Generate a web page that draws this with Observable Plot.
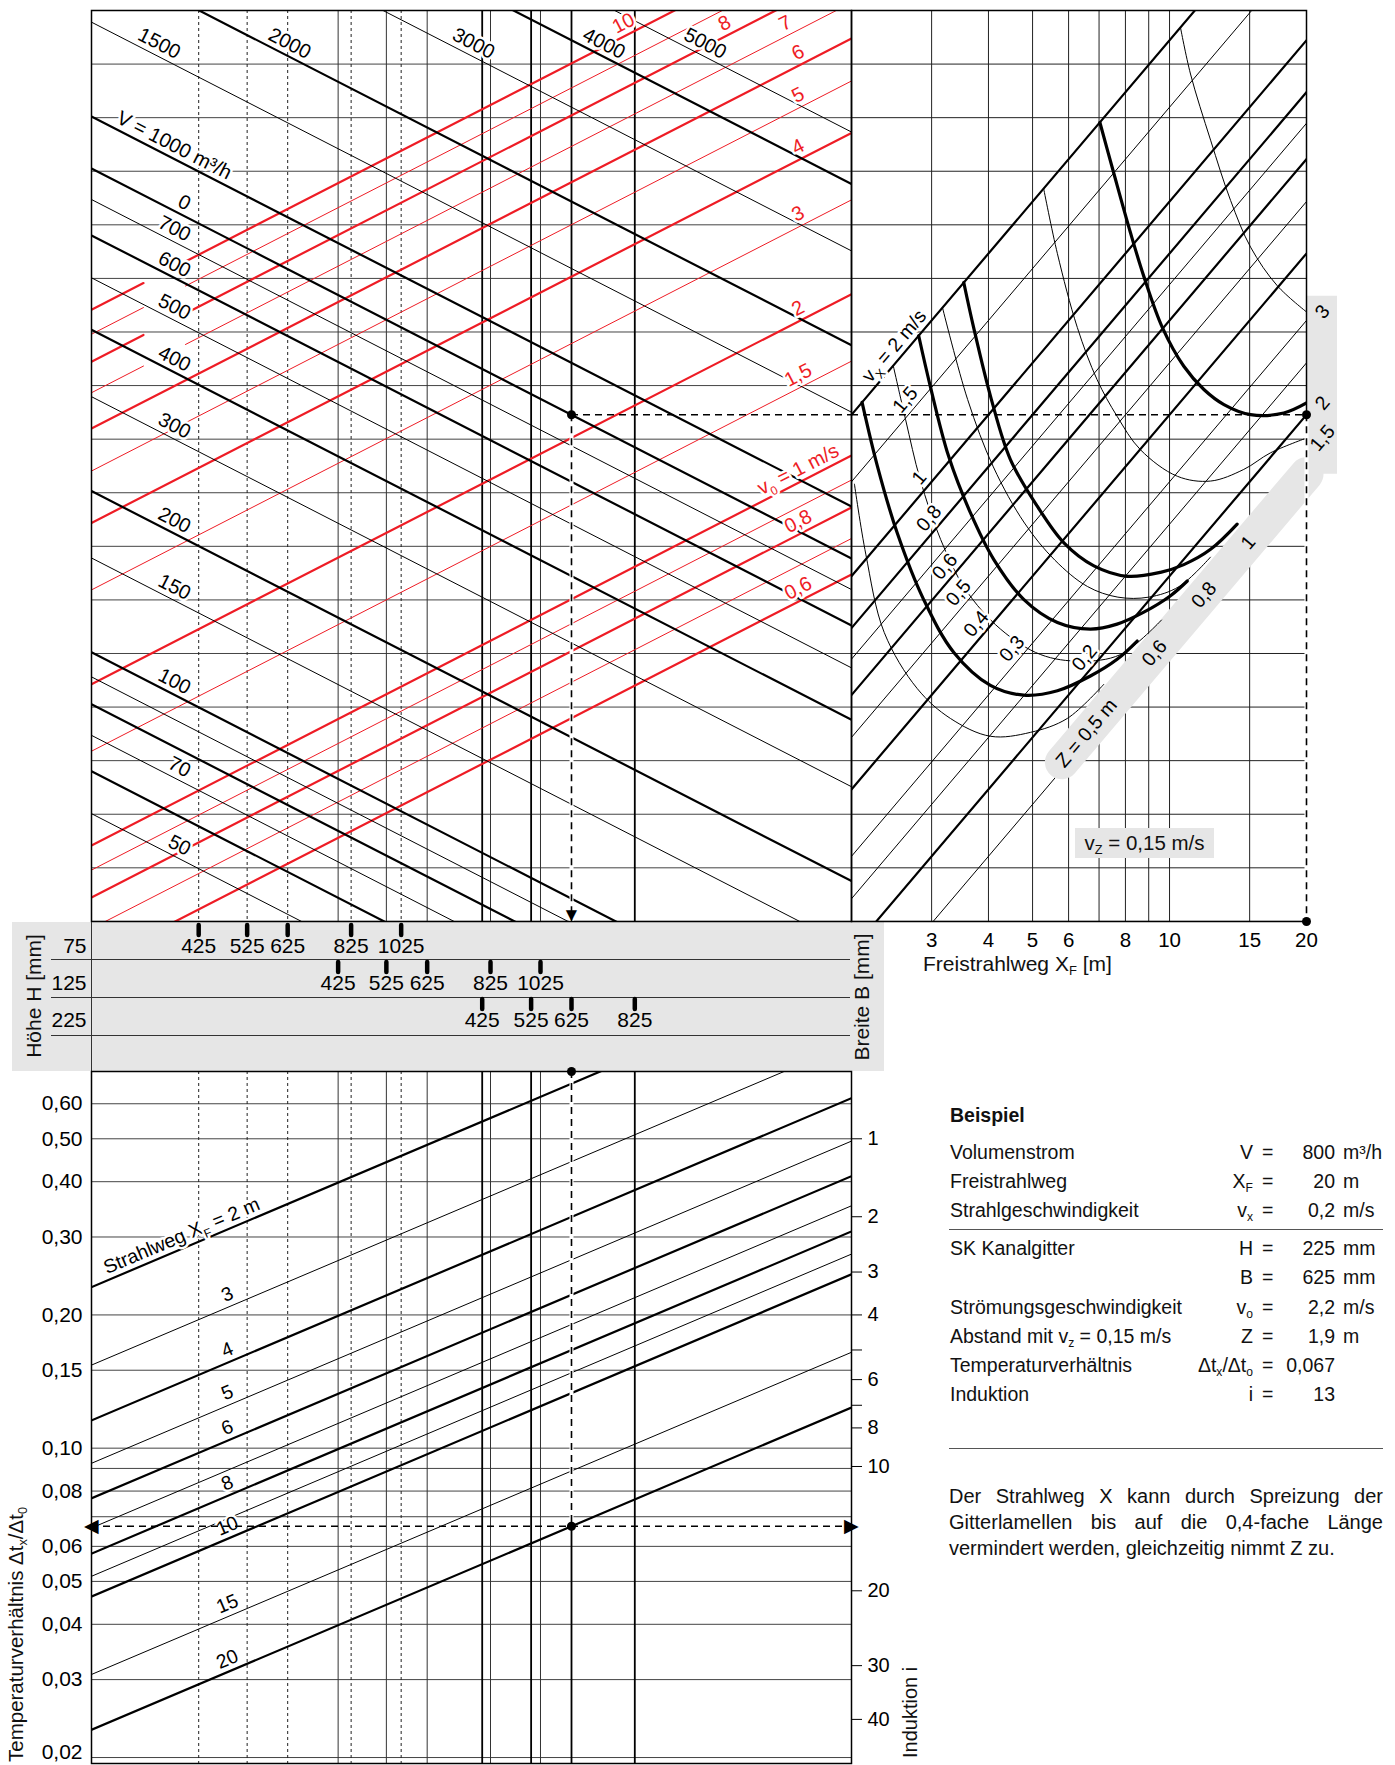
<!DOCTYPE html>
<html lang="de">
<head>
<meta charset="utf-8">
<script src="https://cdn.jsdelivr.net/npm/d3@7"></script>
<script src="https://cdn.jsdelivr.net/npm/@observablehq/plot@0.6"></script>
<style>
html,body{margin:0;padding:0;background:#fff;}
#root{position:relative;width:1395px;height:1765px;overflow:hidden;background:#fff;font-family:'Liberation Sans',Arial,Helvetica,sans-serif;color:#111;}
.abs{position:absolute;white-space:nowrap;font-size:19.5px;line-height:22px;}
.box{position:absolute;background:#e6e6e6;}
.hl{position:absolute;height:1px;background:#333;}
sub{font-size:0.62em;vertical-align:-0.32em;line-height:0;}
</style>
</head>
<body>
<div id="root"></div>
<script>
// ======================= DATA =======================
// scale domains
const areaDomain  = [0.01211, 0.3459];   // effective free grille area A [m²]
const jetDomain   = [0.0794, 3.981];     // jet parameter q = v0·√A
const throwDomain = [2, 20];             // Freistrahlweg X_F [m]
const ratioDomain = [0.01939, 0.7096];   // Δt_x/Δt_0

// grille table (height H, width B, effective area A)
const gridHeights = ["75", "125", "225"];
const widths75  = [425, 525, 625, 825, 1025];
const areas75   = [0.01943, 0.02406, 0.02877, 0.03806, 0.04746];
const widths125 = [425, 525, 625, 825, 1025];
const areas125  = [0.03594, 0.04446, 0.05323, 0.07038, 0.08774];
const widths225 = [425, 525, 625, 825];
const areas225  = [0.06785, 0.08419, 0.1006, 0.1330];

// volume flow lines V [m³/h]
const volumeFlows = [5000, 4000, 3000, 2000, 1500, 1000, 800, 700, 600, 500, 400, 300, 200, 150, 100, 90, 80, 70, 60, 50];
const volumeBold  = [4000, 2000, 1000, 800, 600, 400, 200, 100, 80, 60];
const volumeTopLabels  = [1500, 2000, 3000, 4000, 5000];
const volumeSideLabels = [1000, 800, 700, 600, 500, 400, 300, 200, 150, 100, 70, 50];
const volumeSideText   = ["V = 1000 m³/h", "0", "700", "600", "500", "400", "300", "200", "150", "100", "70", "50"];

// outlet velocity lines v0 [m/s]
const outletSpeeds = [10, 9, 8, 7, 6, 5, 4, 3, 2, 1.5, 1, 0.9, 0.8, 0.7, 0.6];
const outletBold   = [10, 8, 6, 4, 2, 1, 0.8, 0.6];
const outletLabels = [10, 8, 7, 6, 5, 4, 3, 2, 1.5, 1, 0.8, 0.6];
const outletLabelText = ["10", "8", "7", "6", "5", "4", "3", "2", "1,5", "v_0 = 1 m/s", "0,8", "0,6"];

// jet velocity lines v_x [m/s]
const jetSpeeds = [2, 1.5, 1, 0.8, 0.7, 0.6, 0.5, 0.4, 0.3, 0.25, 0.2, 0.15];
const jetBold   = [2, 1, 0.8, 0.6, 0.4, 0.2];
const jetLabelSpeeds = [2, 1.5, 1, 0.8, 0.6, 0.5, 0.4, 0.3, 0.2];
const jetLabelText   = ["v_X = 2 m/s", "1,5", "1", "0,8", "0,6", "0,5", "0,4", "0,3", "0,2"];
const jetLabelAt     = [2.60, 2.75, 2.95, 3.10, 3.36, 3.60, 3.94, 4.72, 6.81];
const throwTicks = [3, 4, 5, 6, 8, 10, 15, 20];
const throwGrid  = [3, 4, 5, 6, 7, 8, 9, 10, 15];

// distance curves Z (v_z = 0,15 m/s): X_F [m] and jet parameter q
const zCurves = [
  {Z: 0.5, bold: false, xf: [2.03, 2.15, 2.36, 2.79, 3.30, 4.04, 4.95, 5.96, 7.17],
                        q:  [0.52, 0.385, 0.275, 0.216, 0.19, 0.176, 0.179, 0.19, 0.22]},
  {Z: 0.6, bold: true,  xf: [2.11, 2.28, 2.52, 2.88, 3.36, 4.04, 4.78, 5.67, 6.70, 7.67, 8.49],
                        q:  [0.739, 0.562, 0.422, 0.317, 0.252, 0.219, 0.210, 0.214, 0.228, 0.245, 0.265]},
  {Z: 0.7, bold: false, xf: [2.47, 2.63, 2.83, 3.14, 3.56, 4.25, 5.21, 6.37, 7.80, 9.6],
                        q:  [0.866, 0.686, 0.531, 0.41, 0.331, 0.279, 0.25, 0.243, 0.25, 0.29]},
  {Z: 0.8, bold: true,  xf: [2.81, 2.98, 3.27, 3.65, 4.11, 4.78, 5.67, 6.70, 7.67, 8.78, 10.05, 10.94],
                        q:  [0.984, 0.792, 0.586, 0.46, 0.376, 0.317, 0.287, 0.279, 0.285, 0.30, 0.322, 0.343]},
  {Z: 0.9, bold: false, xf: [3.17, 3.60, 4.10, 4.80, 5.60, 6.60, 7.70, 9.0, 10.5, 12.3],
                        q:  [1.11, 0.748, 0.56, 0.44, 0.375, 0.335, 0.32, 0.32, 0.335, 0.38]},
  {Z: 1,   bold: true,  xf: [3.53, 3.71, 4.06, 4.47, 5.12, 5.86, 6.82, 8.07, 9.55, 10.75, 12.31, 14.08],
                        q:  [1.237, 1.02, 0.748, 0.578, 0.473, 0.404, 0.366, 0.350, 0.356, 0.368, 0.393, 0.438]},
  {Z: 1.5, bold: false, xf: [5.29, 5.67, 6.27, 6.93, 7.67, 8.63, 10.40, 12.31, 14.56, 16.67, 20],
                        q:  [1.85, 1.40, 1.02, 0.815, 0.696, 0.603, 0.538, 0.527, 0.554, 0.595, 0.634]},
  {Z: 2,   bold: true,  xf: [7.03, 7.54, 8.21, 8.78, 9.64, 10.75, 11.90, 13.17, 15.07, 17.83, 20],
                        q:  [2.46, 1.98, 1.53, 1.27, 1.02, 0.863, 0.781, 0.732, 0.701, 0.706, 0.737]},
  {Z: 3,   bold: false, xf: [10.57, 11.12, 12.31, 13.62, 15.07, 17.25, 20],
                        q:  [3.70, 3.03, 2.28, 1.76, 1.44, 1.22, 1.09]}
];
const zBandLabels = ["Z = 0,5 m", "0,6", "0,8", "1"];
const zBandLabelAt = [6.57, 9.27, 11.9, 14.9];
const zStripLabels = [3, 2, 1.5];
const zStripText = ["3", "2", "1,5"];
const bandSpeed = 0.155, bandStart = 5.8;

// temperature ratio / induction
const ratioTicks = [0.6, 0.5, 0.4, 0.3, 0.2, 0.15, 0.1, 0.08, 0.06, 0.05, 0.04, 0.03];
const ratioTickText = ["0,60", "0,50", "0,40", "0,30", "0,20", "0,15", "0,10", "0,08", "0,06", "0,05", "0,04", "0,03"];
const ratioBottomTick = 0.02, ratioBottomText = "0,02";
const ratioGrid = [0.6, 0.5, 0.4, 0.3, 0.2, 0.15, 0.1, 0.09, 0.08, 0.07, 0.06, 0.05, 0.04, 0.03, 0.02];
const inductionTicks = [1, 2, 3, 4, 6, 8, 10, 20, 30, 40];
const inductionMinor = [5, 7];
const throwLines = [2, 3, 4, 5, 6, 7, 8, 9, 10, 15, 20];
const throwBold  = [2, 4, 6, 8, 10, 20];
const throwLabelValues = [2, 3, 4, 5, 6, 8, 10, 15, 20];
const throwLabelText   = ["Strahlweg X_F = 2 m", "3", "4", "5", "6", "8", "10", "15", "20"];

// example (Beispiel)
const example = {V: 800, H: "225", B: 625, XF: 20, ratio: 0.067};

// nomogram constants
const JET_K = 5.71;   // q = v_x · X_F / K
const TEMP_C = 4.2;   // Δt_x/Δt_0 = C · √A / X_F

// ======================= LAYOUT =======================
const W = 1395, H = 1765;
const FONT = "'Liberation Sans', Arial, Helvetica, sans-serif";
const RED = "#ee1c25";
const root = document.getElementById("root");
const sqrt = Math.sqrt;
const rad = Math.PI / 180;
const ANG_V = Math.atan(0.5 * 537 / 522) / rad;
const ANG_J = Math.atan(537 / 455) / rad;
const ANG_T = Math.atan(0.5 * 442.6 / 522) / rad;
// perpendicular label offsets (px)
const offDown = (ang, d) => ({dx: d * Math.sin(ang * rad), dy: -d * Math.cos(ang * rad)});   // line falling to the right
const offUp = (ang, d) => ({dx: -d * Math.sin(ang * rad), dy: -d * Math.cos(ang * rad)});    // line rising to the right
const halo = {stroke: "#fff", strokeWidth: 5, strokeLinejoin: "round", paintOrder: "stroke"};

const grilles = [
  ...widths75.map((B, i) => ({H: "75", B, A: areas75[i]})),
  ...widths125.map((B, i) => ({H: "125", B, A: areas125[i]})),
  ...widths225.map((B, i) => ({H: "225", B, A: areas225[i]}))
];
const exA = grilles.find(d => d.H === example.H && d.B === example.B).A;
const exQ = example.V / 3600 / sqrt(exA);

const jetRows = d3.range(18).map(k => Math.pow(10, 0.6 - 0.1 * k));
const A_EXT = [0.004, 0.9];

function grilleStyle(h) {
  if (h === "75") return {stroke: "#222", strokeWidth: 1, strokeDasharray: "3,3"};
  if (h === "125") return {stroke: "#333", strokeWidth: 1};
  return {stroke: "#000", strokeWidth: 1.8};
}
const grilleRules = () => gridHeights.map(h => Plot.ruleX(grilles.filter(d => d.H === h), {x: "A", ...grilleStyle(h)}));

function subify(svg, fs) {
  svg.querySelectorAll("text").forEach(t => {
    if (t.querySelector("tspan")) return;
    const s = t.textContent;
    if (!s.includes("_")) return;
    const parts = s.split(/_(.)/);
    t.textContent = "";
    parts.forEach((p, i) => {
      if (!p) return;
      const ts = document.createElementNS("http://www.w3.org/2000/svg", "tspan");
      ts.textContent = p;
      if (i % 2 === 1) { ts.setAttribute("font-size", fs * 0.62); ts.setAttribute("dy", fs * 0.28); }
      else if (i > 0) ts.setAttribute("dy", -fs * 0.28);
      t.appendChild(ts);
    });
  });
}

function panel(o) {
  const svg = Plot.plot({
    width: W, height: H,
    marginLeft: o.l, marginRight: W - o.r, marginTop: o.t, marginBottom: H - o.b,
    x: {axis: null, ...o.x},
    y: {axis: null, ...o.y},
    style: `position:absolute;left:0;top:0;background:transparent;overflow:visible;max-width:none;font-family:${FONT};`,
    marks: o.marks
  });
  subify(svg, 19.5);
  root.appendChild(svg);
}
function div(cls, css, html) {
  const d = document.createElement("div");
  d.className = cls;
  d.style.cssText = css;
  if (html) d.innerHTML = html;
  root.appendChild(d);
  return d;
}

// ---------- background boxes ----------
div("box", "left:12px;top:922px;width:872px;height:149px;");
[959, 997, 1035].forEach(y => div("hl", `left:51px;top:${y}px;width:799px;`));

// ======================= TOP-LEFT PANEL =======================
const vLineData = volumeFlows.flatMap(V => A_EXT.map(A => ({V, A, q: V / 3600 / sqrt(A)})));
const GAP = [0.01523, 0.01833], GAP_MID = 0.0167;
const redData = outletSpeeds.flatMap(v => {
  const segs = v * sqrt(GAP_MID) > 0.832 ? [[A_EXT[0], GAP[0]], [GAP[1], A_EXT[1]]] : [A_EXT];
  return segs.flatMap((s, k) => s.map(A => ({v, k, A, q: v * sqrt(A)})));
});
const sideData = volumeSideLabels.map((V, i) => ({V, t: volumeSideText[i], A: i === 0 ? 0.0218 : 0.0182}));
const redLab = outletLabels.map((v, i) => ({v, t: outletLabelText[i], A: v >= 7 ? (3.6 / v) ** 2 : 0.28}));

panel({
  l: 91, r: 851, t: 10, b: 921,
  x: {type: "log", domain: areaDomain},
  y: {type: "log", domain: jetDomain},
  marks: [
    Plot.ruleY(jetRows, {stroke: "#444", strokeWidth: 1}),
    ...grilleRules(),
    Plot.line(redData.filter(d => !outletBold.includes(d.v)), {x: "A", y: "q", z: d => d.v + "_" + d.k, stroke: RED, strokeWidth: 1, clip: true}),
    Plot.line(redData.filter(d => outletBold.includes(d.v)), {x: "A", y: "q", z: d => d.v + "_" + d.k, stroke: RED, strokeWidth: 2.2, clip: true}),
    Plot.line(vLineData.filter(d => !volumeBold.includes(d.V)), {x: "A", y: "q", z: "V", stroke: "#000", strokeWidth: 1, clip: true}),
    Plot.line(vLineData.filter(d => volumeBold.includes(d.V)), {x: "A", y: "q", z: "V", stroke: "#000", strokeWidth: 2.2, clip: true}),
    Plot.text(volumeTopLabels, {x: V => (V / 3600 / 3.3) ** 2, y: () => 3.3, text: V => String(V), rotate: ANG_V, ...offDown(ANG_V, 12), fontSize: 20, fill: "#000", ...halo}),
    Plot.text(sideData, {x: "A", y: d => d.V / 3600 / sqrt(d.A), text: "t", rotate: ANG_V, textAnchor: "end", ...offDown(ANG_V, 12), fontSize: 20, fill: "#000", ...halo}),
    Plot.text(redLab, {x: "A", y: d => d.v * sqrt(d.A), text: "t", rotate: -ANG_V, ...offUp(ANG_V, 12), fontSize: 20, fill: RED, ...halo}),
    Plot.frame({stroke: "#000", strokeWidth: 1.5}),
    // example path
    Plot.ruleX([exA], {y1: exQ, y2: jetDomain[0], stroke: "#fff", strokeWidth: 4}),
    Plot.ruleX([exA], {y1: exQ, y2: jetDomain[0], stroke: "#000", strokeWidth: 1.6, strokeDasharray: "7,5"}),
    Plot.ruleY([exQ], {x1: exA, x2: areaDomain[1], stroke: "#000", strokeWidth: 1.6, strokeDasharray: "7,5"}),
    Plot.dot([exA], {x: d => d, y: () => exQ, r: 4.5, fill: "#000"}),
    Plot.text([exA], {x: d => d, y: () => jetDomain[0], text: () => "▼", dy: -7, fontSize: 19, fill: "#000"})
  ]
});

// ======================= TOP-RIGHT PANEL =======================
const jetData = jetSpeeds.flatMap(v => [1, 40].map(xf => ({v, xf, q: v * xf / JET_K})));
const zData = zCurves.flatMap(c => c.xf.map((x, i) => ({Z: c.Z, bold: c.bold, xf: x, q: c.q[i]})));
const zEnd = Z => { const c = zCurves.find(c => c.Z === Z); return c.q[c.q.length - 1]; };
const jetLab = jetLabelSpeeds.map((v, i) => ({v, t: jetLabelText[i], xf: jetLabelAt[i]}));
const zLab = zBandLabels.map((t, i) => ({t, xf: zBandLabelAt[i]}));
const zStrip = zStripLabels.map((Z, i) => ({t: zStripText[i], q: zEnd(Z)}));
const bandLine = [bandStart, throwDomain[1]].map(xf => ({xf, q: bandSpeed * xf / JET_K}));

panel({
  l: 851, r: 1306, t: 10, b: 921,
  x: {type: "log", domain: throwDomain},
  y: {type: "log", domain: jetDomain},
  marks: [
    Plot.ruleY(jetRows, {stroke: "#222", strokeWidth: 1}),
    Plot.ruleX(throwGrid, {stroke: "#222", strokeWidth: 1}),
    Plot.line(jetData.filter(d => !jetBold.includes(d.v)), {x: "xf", y: "q", z: "v", stroke: "#000", strokeWidth: 1, clip: true}),
    Plot.line(jetData.filter(d => jetBold.includes(d.v)), {x: "xf", y: "q", z: "v", stroke: "#000", strokeWidth: 2.2, clip: true}),
    Plot.line(bandLine, {x: "xf", y: "q", stroke: "#e6e6e6", strokeWidth: 34}),
    Plot.ruleX([throwDomain[1]], {y1: bandSpeed * throwDomain[1] / JET_K, y2: zEnd(3) * 1.07, dx: 15, stroke: "#e6e6e6", strokeWidth: 31}),
    Plot.line(zData.filter(d => !d.bold), {x: "xf", y: "q", z: "Z", curve: "catmull-rom", stroke: "#000", strokeWidth: 1, clip: true}),
    Plot.line(zData.filter(d => d.bold), {x: "xf", y: "q", z: "Z", curve: "catmull-rom", stroke: "#000", strokeWidth: 3.2, clip: true}),
    Plot.text(jetLab, {x: "xf", y: d => d.v * d.xf / JET_K, text: "t", rotate: -ANG_J, ...offUp(ANG_J, 12), fontSize: 19.5, fill: "#000", ...halo}),
    Plot.text(zLab, {x: "xf", y: d => bandSpeed * d.xf / JET_K, text: "t", rotate: -ANG_J, fontSize: 19.5, fill: "#000"}),
    Plot.text(zStrip, {x: () => throwDomain[1], y: "q", text: "t", dx: 16, rotate: -ANG_J, fontSize: 19.5, fill: "#000"}),
    Plot.text(throwTicks, {x: d => d, y: () => jetDomain[0], text: d => String(d), dy: 19, fontSize: 20.5, fill: "#000"}),
    Plot.frame({stroke: "#000", strokeWidth: 1.5}),
    // example path
    Plot.ruleY([exQ], {x1: throwDomain[0], x2: throwDomain[1], stroke: "#000", strokeWidth: 1.6, strokeDasharray: "7,5"}),
    Plot.ruleX([throwDomain[1]], {y1: exQ, y2: jetDomain[0], stroke: "#fff", strokeWidth: 4}),
    Plot.ruleX([throwDomain[1]], {y1: exQ, y2: jetDomain[0], stroke: "#000", strokeWidth: 1.6, strokeDasharray: "7,5"}),
    Plot.dot([0, 1], {x: () => throwDomain[1], y: i => i ? jetDomain[0] : exQ, r: 4.5, fill: "#000"})
  ]
});

// ======================= GRILLE BAND =======================
panel({
  l: 91, r: 851, t: 922, b: 1071,
  x: {type: "log", domain: areaDomain},
  y: {type: "band", domain: [...gridHeights, "-"], padding: 0},
  marks: [
    Plot.ruleX([areaDomain[0]], {stroke: "#333", strokeWidth: 1}),
    Plot.tickX(grilles, {x: "A", y: "H", insetTop: 2, insetBottom: 25, stroke: "#000", strokeWidth: 4.5, strokeLinecap: "round"}),
    Plot.text(grilles, {x: "A", y: "H", text: d => String(d.B), dy: 4, fontSize: 21, fill: "#000"}),
    Plot.text(gridHeights, {x: () => areaDomain[0], y: d => d, text: d => d, dx: -5, dy: 4, textAnchor: "end", fontSize: 21, fill: "#000"})
  ]
});

// ======================= BOTTOM PANEL =======================
const throwData = throwLines.flatMap(xf => A_EXT.map(A => ({xf, A, r: TEMP_C * sqrt(A) / xf})));
const throwLab = throwLabelValues.map((xf, i) => ({xf, t: throwLabelText[i], A: i === 0 ? 0.0184 : 0.0225}));
const exR = TEMP_C * sqrt(exA) / example.XF;

panel({
  l: 91, r: 851, t: 1071, b: 1763,
  x: {type: "log", domain: areaDomain},
  y: {type: "log", domain: ratioDomain},
  marks: [
    Plot.ruleY(ratioGrid, {stroke: "#444", strokeWidth: 1}),
    ...grilleRules(),
    Plot.line(throwData.filter(d => !throwBold.includes(d.xf)), {x: "A", y: "r", z: "xf", stroke: "#000", strokeWidth: 1, clip: true}),
    Plot.line(throwData.filter(d => throwBold.includes(d.xf)), {x: "A", y: "r", z: "xf", stroke: "#000", strokeWidth: 2.2, clip: true}),
    Plot.text(throwLab, {x: "A", y: d => TEMP_C * sqrt(d.A) / d.xf, text: "t", rotate: -ANG_T, ...offUp(ANG_T, 12), fontSize: 19.5, fill: "#000", ...halo}),
    Plot.text(ratioTicks, {x: () => areaDomain[0], y: d => d, text: (d, i) => ratioTickText[i], textAnchor: "end", dx: -9, fontSize: 21, fill: "#000"}),
    Plot.text([ratioBottomTick], {x: () => areaDomain[0], y: d => d, text: () => ratioBottomText, textAnchor: "end", dx: -9, dy: -5, fontSize: 21, fill: "#000"}),
    Plot.ruleY([...inductionTicks, ...inductionMinor], {y: i => 1 / (1 + i), x1: () => areaDomain[1], x2: () => areaDomain[1], insetRight: -11, stroke: "#000", strokeWidth: 1}),
    Plot.text(inductionTicks, {x: () => areaDomain[1], y: i => 1 / (1 + i), text: i => String(i), textAnchor: "start", dx: 16, fontSize: 20, fill: "#000"}),
    Plot.frame({stroke: "#000", strokeWidth: 1.5}),
    // example path
    Plot.ruleX([exA], {y1: ratioDomain[1], y2: exR, stroke: "#fff", strokeWidth: 4}),
    Plot.ruleX([exA], {y1: ratioDomain[1], y2: exR, stroke: "#000", strokeWidth: 1.6, strokeDasharray: "7,5"}),
    Plot.ruleY([exR], {stroke: "#000", strokeWidth: 1.6, strokeDasharray: "7,5"}),
    Plot.dot([0, 1], {x: () => exA, y: i => i ? exR : ratioDomain[1], r: 4.5, fill: "#000"}),
    Plot.text(["◀", "▶"], {x: (d, i) => areaDomain[i], y: () => exR, text: d => d, fontSize: 19, fill: "#000"})
  ]
});

// ======================= TEXT (HTML) =======================
div("abs", "left:34px;top:996px;transform:translate(-50%,-50%) rotate(-90deg);font-size:21px;", "Höhe H [mm]");
div("abs", "left:862px;top:997px;transform:translate(-50%,-50%) rotate(-90deg);font-size:21px;", "Breite B [mm]");
div("abs", "left:923px;top:953px;font-size:21px;", "Freistrahlweg X<sub>F</sub> [m]");
div("abs", "left:5px;top:1762px;transform-origin:0 0;transform:rotate(-90deg);font-size:20.5px;", "Temperaturverhältnis Δt<sub>x</sub>/Δt<sub>0</sub>");
div("abs", "left:899px;top:1758px;transform-origin:0 0;transform:rotate(-90deg);font-size:20px;", "Induktion i");
div("box abs", "left:1075px;top:828px;width:139px;height:30px;line-height:30px;text-align:center;font-size:20.5px;", "v<sub>Z</sub> = 0,15 m/s");

// Beispiel panel
div("abs", "left:950px;top:1104px;font-weight:bold;", "Beispiel");
const exRows = [
  ["Volumenstrom", "V", "800", "m³/h", 1152],
  ["Freistrahlweg", "X<sub>F</sub>", "20", "m", 1181],
  ["Strahlgeschwindigkeit", "v<sub>x</sub>", "0,2", "m/s", 1210],
  ["SK Kanalgitter", "H", "225", "mm", 1248],
  ["", "B", "625", "mm", 1277],
  ["Strömungsgeschwindigkeit", "v<sub>o</sub>", "2,2", "m/s", 1307],
  ["Abstand mit v<sub>z</sub> = 0,15 m/s", "Z", "1,9", "m", 1336],
  ["Temperaturverhältnis", "Δt<sub>x</sub>/Δt<sub>o</sub>", "0,067", "", 1365],
  ["Induktion", "i", "13", "", 1394]
];
exRows.forEach(([lab, sym, val, unit, y]) => {
  const top = y - 11;
  if (lab) div("abs", `left:950px;top:${top}px;`, lab);
  div("abs", `right:${1395 - 1253}px;top:${top}px;`, sym);
  div("abs", `left:1262px;top:${top}px;`, "=");
  div("abs", `right:${1395 - 1335}px;top:${top}px;`, val);
  if (unit) div("abs", `left:1343px;top:${top}px;`, unit);
});
div("hl", "left:949px;top:1229px;width:434px;background:#555;");
div("hl", "left:949px;top:1448px;width:434px;background:#555;");
div("abs", "left:949px;top:1483px;width:434px;white-space:normal;text-align:justify;line-height:26px;font-size:20px;",
  "Der Strahlweg X kann durch Spreizung der Gitterlamellen bis auf die 0,4-fache Länge vermindert werden, gleichzeitig nimmt Z zu.");
</script>
</body>
</html>
